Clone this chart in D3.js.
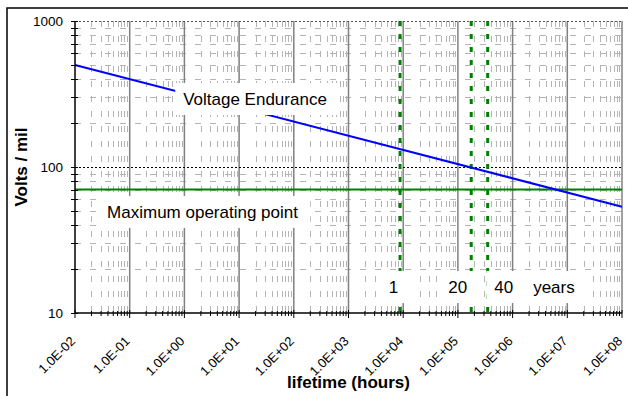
<!DOCTYPE html>
<html>
<head>
<meta charset="utf-8">
<script src="https://cdn.jsdelivr.net/npm/d3@7"></script>
<style>
  body { margin: 0; background: #fff; }
  svg { display: block; font-family: "Liberation Sans", Arial, sans-serif; }
</style>
</head>
<body>
<div id="plot"></div>
<script>
// values
var xTicks = [1e-2, 1e-1, 1e0, 1e1, 1e2, 1e3, 1e4, 1e5, 1e6, 1e7, 1e8];
var xTickLabels = ["1.0E-02", "1.0E-01", "1.0E+00", "1.0E+01", "1.0E+02", "1.0E+03",
                   "1.0E+04", "1.0E+05", "1.0E+06", "1.0E+07", "1.0E+08"];
var yTicks = [10, 100, 1000];
var yTickLabels = ["10", "100", "1000"];

// voltage endurance line (hours, volts/mil)
var enduranceHours = [1e-2, 1e8];
var enduranceVolts = [500, 53.5];

// maximum operating point (volts/mil)
var maxOperating = 70;

// 1, 20, 40 years in hours
var yearHours = [8760, 175200, 350400];

// annotation texts, anchored in data units
var yearLabels = ["1", "20", "40", "years"];
var yearLabelHours = [6670, 99000, 690000, 5.7e6];
var yearLabelVolts = 13.7;

// set the dimensions of the chart
var W = 628, H = 396;
var plot = { left: 75, right: 622, top: 21, bottom: 313 };

var svg = d3.select("#plot")
    .append("svg")
    .attr("width", W)
    .attr("height", H);

svg.append("rect")
    .attr("width", W).attr("height", H)
    .attr("fill", "#fff");

// outer chart frame (runs off the picture on right and bottom)
svg.append("rect")
    .attr("x", 7).attr("y", 8)
    .attr("width", 660).attr("height", 420)
    .attr("fill", "none")
    .attr("stroke", "#000")
    .attr("stroke-width", 1.5);

var x = d3.scaleLog()
    .domain([1e-2, 1e8])
    .range([plot.left, plot.right]);
var y = d3.scaleLog()
    .domain([10, 1000])
    .range([plot.bottom, plot.top]);

// minor values 2..9 in each decade
var xMinor = [], yMinor = [];
xTicks.slice(0, -1).forEach(function(d) {
    for (var k = 2; k <= 9; k++) xMinor.push(d * k);
});
yTicks.slice(0, -1).forEach(function(d) {
    for (var k = 2; k <= 9; k++) yMinor.push(d * k);
});

var grid = svg.append("g");

// minor gridlines, dashed
grid.selectAll(".vminor")
    .data(xMinor)
    .enter().append("line")
    .attr("x1", function(d) { return Math.round(x(d)) + 0.5; })
    .attr("x2", function(d) { return Math.round(x(d)) + 0.5; })
    .attr("y1", plot.top).attr("y2", plot.bottom)
    .attr("stroke", "#b4b4b4")
    .attr("stroke-dasharray", "6,9");
grid.selectAll(".hminor")
    .data(yMinor)
    .enter().append("line")
    .attr("x1", plot.left).attr("x2", plot.right)
    .attr("y1", function(d) { return Math.round(y(d)) + 0.5; })
    .attr("y2", function(d) { return Math.round(y(d)) + 0.5; })
    .attr("stroke", "#b4b4b4")
    .attr("stroke-dasharray", "6,9");

// major gridlines
grid.selectAll(".vmajor")
    .data(xTicks.slice(1))
    .enter().append("line")
    .attr("x1", function(d) { return x(d); })
    .attr("x2", function(d) { return x(d); })
    .attr("y1", plot.top).attr("y2", plot.bottom)
    .attr("stroke", "#808080")
    .attr("stroke-width", 1.5);
grid.selectAll(".hmajor")
    .data(yTicks.slice(1))
    .enter().append("line")
    .attr("x1", plot.left).attr("x2", plot.right)
    .attr("y1", function(d) { return Math.round(y(d)) + 0.5; })
    .attr("y2", function(d) { return Math.round(y(d)) + 0.5; })
    .attr("stroke", function(d) { return d == 1000 ? "#555" : "#000"; })
    .attr("stroke-dasharray", "2,2");

// year lines, green dotted
svg.selectAll(".year")
    .data(yearHours)
    .enter().append("line")
    .attr("x1", function(d) { return x(d); })
    .attr("x2", function(d) { return x(d); })
    .attr("y1", plot.top).attr("y2", plot.bottom)
    .attr("stroke", "#008000")
    .attr("stroke-width", 3)
    .attr("stroke-dasharray", "5,8");

// maximum operating point
svg.append("line")
    .attr("x1", plot.left).attr("x2", plot.right)
    .attr("y1", y(maxOperating)).attr("y2", y(maxOperating))
    .attr("stroke", "#008000")
    .attr("stroke-width", 2);

// voltage endurance
var line = d3.line()
    .x(function(d, i) { return x(enduranceHours[i]); })
    .y(function(d) { return y(d); });
svg.append("path")
    .datum(enduranceVolts)
    .attr("d", line)
    .attr("fill", "none")
    .attr("stroke", "#0000ff")
    .attr("stroke-width", 2);

// axes
var axes = svg.append("g");
axes.append("line")
    .attr("x1", plot.left).attr("x2", plot.left)
    .attr("y1", plot.top).attr("y2", plot.bottom)
    .attr("stroke", "#000").attr("stroke-width", 1.5);
axes.append("line")
    .attr("x1", plot.left).attr("x2", plot.right)
    .attr("y1", plot.bottom).attr("y2", plot.bottom)
    .attr("stroke", "#000").attr("stroke-width", 1.5);

axes.selectAll(".xtick")
    .data(xTicks.concat(xMinor))
    .enter().append("line")
    .attr("x1", function(d) { return x(d); })
    .attr("x2", function(d) { return x(d); })
    .attr("y1", function(d) { return xTicks.indexOf(d) >= 0 ? plot.bottom - 3 : plot.bottom - 2; })
    .attr("y2", function(d) { return xTicks.indexOf(d) >= 0 ? plot.bottom + 5 : plot.bottom + 3; })
    .attr("stroke", "#000");
axes.selectAll(".ytick")
    .data(yTicks.concat(yMinor))
    .enter().append("line")
    .attr("x1", plot.left - 4).attr("x2", plot.left + 3)
    .attr("y1", function(d) { return Math.round(y(d)) + 0.5; })
    .attr("y2", function(d) { return Math.round(y(d)) + 0.5; })
    .attr("stroke", "#000");

axes.selectAll(".xlabel")
    .data(xTicks)
    .enter().append("text")
    .attr("transform", function(d) {
        return "translate(" + (x(d) + 1) + "," + (plot.bottom + 29) + ") rotate(-45)";
    })
    .attr("text-anchor", "end")
    .style("font-size", "13px")
    .text(function(d, i) { return xTickLabels[i]; });

axes.selectAll(".ylabel")
    .data(yTicks)
    .enter().append("text")
    .attr("x", plot.left - 12)
    .attr("y", function(d) { return y(d); })
    .attr("dy", "0.35em")
    .attr("text-anchor", "end")
    .style("font-size", "13.5px")
    .text(function(d, i) { return yTickLabels[i]; });

// axis titles
svg.append("text")
    .attr("transform", "translate(27," + ((plot.top + plot.bottom) / 2) + ") rotate(-90)")
    .attr("text-anchor", "middle")
    .style("font-size", "17px")
    .style("font-weight", "bold")
    .text("Volts / mil");
svg.append("text")
    .attr("x", (plot.left + plot.right) / 2)
    .attr("y", 388)
    .attr("text-anchor", "middle")
    .style("font-size", "17px")
    .style("font-weight", "bold")
    .text("lifetime (hours)");

// annotations with white boxes
function boxedLabel(txt, px, py, anchor) {
    var g = svg.append("g");
    var r = g.append("rect").attr("fill", "#fff");
    var t = g.append("text")
        .attr("x", px).attr("y", py)
        .attr("text-anchor", anchor)
        .style("font-size", "17px")
        .text(txt);
    var b = t.node().getBBox();
    r.attr("x", b.x - 8).attr("y", py - 22)
        .attr("width", b.width + 20).attr("height", 32);
}

boxedLabel("Voltage Endurance", x(0.95), y(266), "start");
boxedLabel("Maximum operating point", x(0.0386), y(44.8), "start");
yearLabels.forEach(function(d, i) {
    boxedLabel(d, x(yearLabelHours[i]), y(yearLabelVolts), "middle");
});
</script>
</body>
</html>
